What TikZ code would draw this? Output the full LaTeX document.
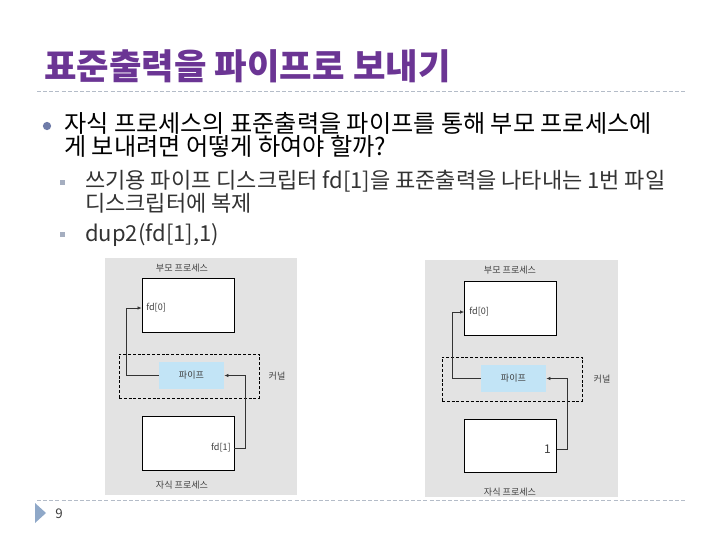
\documentclass[tikz,border=0pt]{standalone}
\usepackage{fontspec}
\setmainfont{Noto Sans CJK KR}
\usetikzlibrary{positioning, arrows.meta}

\definecolor{titlePurple}{HTML}{6B3594}
\definecolor{ruleGray}{HTML}{B4BCC8}
\definecolor{dotBlue}{HTML}{6E7BA8}
\definecolor{squareGray}{HTML}{A5AEC0}
\definecolor{panelGray}{HTML}{E3E3E3}
\definecolor{pipeBlue}{HTML}{C2E4F6}
\definecolor{markBlue}{HTML}{8FA8C8}

\begin{document}
\begin{tikzpicture}[
		x=0.75pt, y=-0.75pt,
		% Slide text
		mainTitle/.style={font=\fontsize{26.5}{30}\selectfont\bfseries, text=titlePurple, anchor=west, inner sep=0pt},
		body text/.style={font=\fontsize{18.1}{16.5}\selectfont, anchor=west, align=left, inner sep=0pt},
		sub text/.style={font=\fontsize{16.5}{15}\selectfont, text=black!80, anchor=west, align=left, inner sep=0pt},
		rule/.style={draw=ruleGray, line width=0.6pt, dash pattern=on 3pt off 1.6pt},
		% Styles for the process diagrams
		procBox/.style={draw=black, line width=0.6pt, fill=white, minimum width=69pt, minimum height=40pt, inner sep=0pt},
		pipeBox/.style={fill=pipeBlue, minimum width=49pt, minimum height=20pt, inner sep=0pt, font=\fontsize{6.8}{7}\selectfont, text=black!75},
		kernelBox/.style={draw=black, line width=0.7pt, dash pattern=on 2.2pt off 1.4pt, minimum width=105pt, minimum height=33pt, inner sep=0pt},
		diagLabel/.style={font=\fontsize{6.8}{7}\selectfont, text=black!75, inner sep=0pt},
		arr/.style={draw=black!80, line width=0.5pt, -{Latex[length=3pt, width=2.6pt]}}
	]
	\useasboundingbox (0,0) rectangle (720,540);

	% Title
	\node[mainTitle] (title) at (44,66) {표준출력을 파이프로 보내기};
	\draw[rule] (37,91) -- (686,91);

	% Bullets
	\fill[dotBlue] (47,126) circle (3.1pt);
	\node[body text] (q1) at (64,135) {자식 프로세스의 표준출력을 파이프를 통해 부모 프로세스에\\게 보내려면 어떻게 하여야 할까?};
	\fill[squareGray] (60,180) rectangle ++(5,5);
	\node[sub text] (a1) at (85,192) {쓰기용 파이프 디스크립터 fd[1]을 표준출력을 나타내는 1번 파일\\디스크립터에 복제};
	\fill[squareGray] (60,232) rectangle ++(5,5);
	\node[sub text] (a2) at (85,235) {dup2(fd[1],1)};

	% ==============================================================
	% Left diagram
	% ==============================================================
	\fill[panelGray] (105,258) rectangle (297,495);
	\node[diagLabel] (parentLblL) at (182,268) {부모 프로세스};
	\node[procBox] (parentL) at (188,305.5) {};
	\node[diagLabel, anchor=west] (fd0L) at (146,308) {fd[0]};
	\node[kernelBox] (kernelL) at (189,376) {};
	\node[pipeBox] (pipeL) at (191.5,375.5) {파이프};
	\node[diagLabel] (kernelLblL) at (277,376) {커널};
	\node[procBox] (childL) at (188,443.5) {};
	\node[diagLabel, anchor=east] (fd1L) at (231,448) {fd[1]};
	\node[diagLabel] (childLblL) at (182,485) {자식 프로세스};
	\draw[arr] (pipeL.west) -- ++(-32,0) |- (parentL.west |- fd0L.west);
	\draw[arr] (childL.east |- fd1L.east) -- ++(11,0) |- (pipeL.east);

	% ==============================================================
	% Right diagram
	% ==============================================================
	\fill[panelGray] (425,260) rectangle (618,497);
	\node[diagLabel] (parentLblR) at (510,270) {부모 프로세스};
	\node[procBox] (parentR) at (510.5,308.5) {};
	\node[diagLabel, anchor=west] (fd0R) at (469,312) {fd[0]};
	\node[kernelBox] (kernelR) at (512,379) {};
	\node[pipeBox] (pipeR) at (513.5,378.5) {파이프};
	\node[diagLabel] (kernelLblR) at (602,379) {커널};
	\node[procBox] (childR) at (510.5,446) {};
	\node[diagLabel, anchor=east, font=\fontsize{9}{10}\selectfont] (fd1R) at (551,449) {1};
	\node[diagLabel] (childLblR) at (510,492) {자식 프로세스};
	\draw[arr] (pipeR.west) -- ++(-28,0) |- (parentR.west |- fd0R.west);
	\draw[arr] (childR.east |- fd1R.east) -- ++(10,0) |- (pipeR.east);

	% Footer
	\draw[rule] (37,500) -- (686,500);
	\fill[markBlue] (35,503) -- (46,513) -- (35,523) -- cycle;
	\node[font=\fontsize{10}{12}\selectfont, text=black!75, inner sep=0pt] (pageNo) at (59,514) {9};
\end{tikzpicture}
\end{document}
